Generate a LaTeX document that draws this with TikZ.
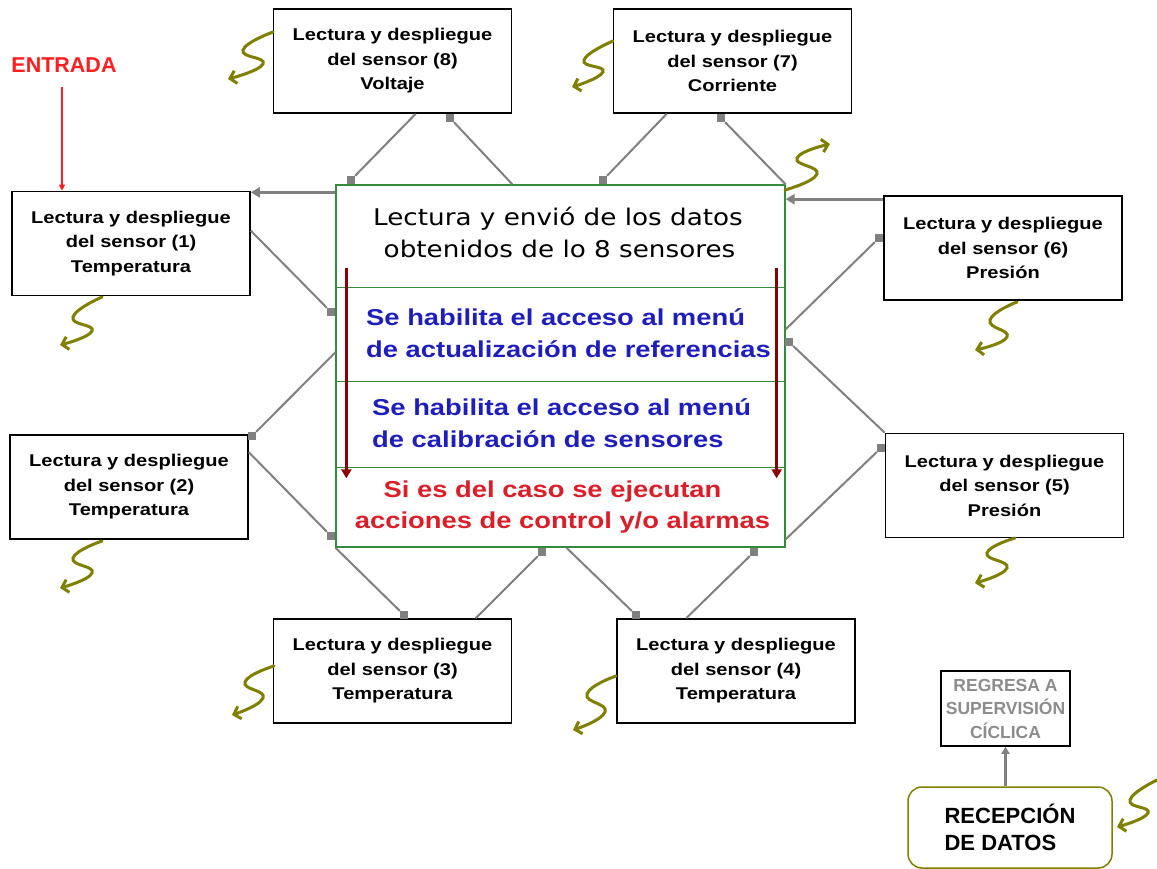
\documentclass[tikz,border=0pt]{standalone}
\usepackage{fontspec}
\setmainfont{Liberation Sans}
\newfontfamily\boxf[FakeStretch=1.18]{Liberation Sans}
\newfontfamily\cenf[FakeStretch=1.14]{DejaVu Sans}
\newfontfamily\bigf[FakeStretch=1.19]{Liberation Sans}
\usetikzlibrary{arrows.meta}
\definecolor{olv}{RGB}{128,128,0}
\definecolor{cgray}{RGB}{128,128,128}
\definecolor{grn}{RGB}{50,140,60}
\definecolor{dred}{RGB}{140,0,0}
\definecolor{cblue}{RGB}{30,30,190}
\definecolor{cred}{RGB}{220,30,40}
\definecolor{ered}{RGB}{255,30,30}
\definecolor{tgray}{RGB}{140,140,140}
\begin{document}
\begin{tikzpicture}[x=1pt,y=-1pt,
  sbox/.style={draw=black,line width=1.6pt,minimum width=238pt,minimum height=104pt,inner sep=0pt,align=center,font=\boxf\bfseries\fontsize{17}{24.5}\selectfont},
  sq/.style={fill=cgray,minimum size=8pt,inner sep=0pt},
  conn/.style={draw=cgray,line width=2pt},
  harrow/.style={draw=cgray,line width=3pt,-{Triangle[length=9pt,width=10pt]}},
  squig/.style={draw=olv,line width=3pt,line cap=round,-{Straight Barb[length=6pt,width=13pt]}},
  ctext/.style={inner sep=0pt,font=\cenf\fontsize{23}{32}\selectfont},
  btext/.style={inner sep=0pt,text=cblue,font=\bigf\bfseries\fontsize{23}{31}\selectfont},
  rtext/.style={inner sep=0pt,text=cred,font=\bigf\bfseries\fontsize{23}{31}\selectfont},
  grnline/.style={draw=grn,line width=1.3pt},
  dredarrow/.style={draw=dred,line width=3pt,-{Triangle[length=9pt,width=10pt]}}
]
\useasboundingbox[fill=white] (0,0) rectangle (1157,869);

% sensor boxes
\node[sbox] (b8) at (392.5,61) {Lectura y despliegue\\del sensor (8)\\Voltaje};
\node[sbox] (b7) at (732.5,61) {Lectura y despliegue\\del sensor (7)\\Corriente};
\node[sbox] (b1) at (131,243.5) {Lectura y despliegue\\del sensor (1)\\Temperatura};
\node[sbox] (b6) at (1003,248) {Lectura y despliegue\\del sensor (6)\\Presión};
\node[sbox] (b2) at (129,487) {Lectura y despliegue\\del sensor (2)\\Temperatura};
\node[sbox] (b5) at (1004.5,485.5) {Lectura y despliegue\\del sensor (5)\\Presión};
\node[sbox] (b3) at (392.5,671) {Lectura y despliegue\\del sensor (3)\\Temperatura};
\node[sbox] (b4) at (736,671) {Lectura y despliegue\\del sensor (4)\\Temperatura};

% central box
\node[draw=grn,line width=1.3pt,minimum width=449pt,minimum height=362pt,inner sep=0pt] (cb) at (560.5,366) {};
\draw[grnline] ([yshift=-103pt]cb.north west) -- ([yshift=-103pt]cb.north east);
\draw[grnline] ([yshift=-197pt]cb.north west) -- ([yshift=-197pt]cb.north east);
\draw[grnline] ([yshift=-283pt]cb.north west) -- ([yshift=-283pt]cb.north east);
\draw[dredarrow] ([xshift=11pt,yshift=-84pt]cb.north west) -- ([xshift=11pt,yshift=-294pt]cb.north west);
\draw[dredarrow] ([xshift=-9pt,yshift=-84pt]cb.north east) -- ([xshift=-9pt,yshift=-294pt]cb.north east);

\node[ctext,anchor=base] (t1) at (558,226) {Lectura y envió de los datos};
\node[ctext,anchor=base] (t2) at (559.5,258) {obtenidos de lo 8 sensores};
\node[btext,anchor=base west] (t3) at (366,325) {Se habilita el acceso al menú};
\node[btext,anchor=base west] (t4) at (366,357) {de actualización de referencias};
\node[btext,anchor=base west] (t5) at (372,415) {Se habilita el acceso al menú};
\node[btext,anchor=base west] (t6) at (372,447) {de calibración de sensores};
\node[rtext,anchor=base] (t7) at (552.5,497) {Si es del caso se ejecutan};
\node[rtext,anchor=base] (t8) at (562.5,528) {acciones de control y/o alarmas};

% squares
\node[sq] (s1) at (351,180) {};
\node[sq] (s2) at (450,118) {};
\node[sq] (s3) at (603,180) {};
\node[sq] (s4) at (721,118) {};
\node[sq] (s5) at (331,312) {};
\node[sq] (s6) at (252,436) {};
\node[sq] (s7) at (331,536) {};
\node[sq] (s8) at (404,615) {};
\node[sq] (s9) at (542,552) {};
\node[sq] (s10) at (636,615) {};
\node[sq] (s11) at (754,552) {};
\node[sq] (s12) at (879,238) {};
\node[sq] (s13) at (789,342) {};
\node[sq] (s14) at (881,448) {};

% connectors
\draw[conn] (s1) -- ([xshift=143pt]b8.south west);
\draw[conn] (s2) -- ([xshift=177pt]cb.north west);
\draw[conn] (s3) -- ([xshift=54pt]b7.south west);
\draw[conn] (s4) -- (cb.north east);
\draw[conn] ([yshift=-40pt]b1.north east) -- (s5);
\draw[conn] (s6) -- ([yshift=-168pt]cb.north west);
\draw[conn] ([yshift=-18pt]b2.north east) -- (s7);
\draw[conn] (cb.south west) -- (s8);
\draw[conn] ([xshift=203pt]b3.north west) -- (s9);
\draw[conn] ([xshift=231pt]cb.south west) -- (s10);
\draw[conn] ([xshift=70pt]b4.north west) -- (s11);
\draw[conn] (s12) -- ([yshift=-145pt]cb.north east);
\draw[conn] (s13) -- (b5.north west);
\draw[conn] (s14) -- ([yshift=-355pt]cb.north east);

\coordinate (a1s) at ([yshift=-8pt]cb.north west);
\draw[harrow] (a1s) -- (a1s -| b1.east);
\coordinate (a2s) at ([yshift=-4pt]b6.north west);
\draw[harrow] (a2s) -- (a2s -| cb.east);

% entrada
\node[text=ered,font=\bfseries\fontsize{21.5}{24}\selectfont,inner sep=0pt] (en) at (64,65) {ENTRADA};
\draw[draw=ered,line width=1.2pt,-{Triangle[length=6pt,width=6pt]}] ([xshift=-2pt,yshift=-14pt]en.south) -- ([xshift=-2pt]en.south |- b1.north);

% return boxes
\node[draw=black,line width=1.5pt,minimum width=129pt,minimum height=75pt,inner sep=0pt,align=center,text=tgray,font=\bfseries\fontsize{17.5}{23.5}\selectfont] (rg) at (1005.5,708.5) {REGRESA A\\SUPERVISIÓN\\CÍCLICA};
\node[draw=olv,line width=1.5pt,rounded corners=14pt,minimum width=204pt,minimum height=81pt,inner sep=0pt,align=left,font=\bfseries\fontsize{22}{27}\selectfont] (rc) at (1010,827.5) {RECEPCIÓN\\DE DATOS};
\draw[draw=cgray,line width=3pt,-{Triangle[length=7pt,width=8pt]}] (rc.north -| rg.south) -- (rg.south);

% squiggles
\draw[squig] plot[smooth,tension=0.9] coordinates {(273,32) (243,50) (263,64) (228,79)};
\draw[squig] plot[smooth,tension=0.9] coordinates {(613,41) (584,60) (603,72) (572,87)};
\draw[squig] plot[smooth,tension=0.9] coordinates {(785,190) (817,174) (797,158) (830,144)};
\draw[squig] plot[smooth,tension=0.9] coordinates {(102,297) (73,317) (92,331) (60,345)};
\draw[squig] plot[smooth,tension=0.9] coordinates {(1017,302) (990,320) (1007,337) (975,350)};
\draw[squig] plot[smooth,tension=0.9] coordinates {(102,541) (73,558) (92,573) (60,588)};
\draw[squig] plot[smooth,tension=0.9] coordinates {(1015,538) (987,553) (1007,568) (975,583)};
\draw[squig] plot[smooth,tension=0.9] coordinates {(274,666) (245,682) (263,698) (232,715)};
\draw[squig] plot[smooth,tension=0.9] coordinates {(616,676) (587,694) (605,712) (573,730)};
\draw[squig] plot[smooth,tension=0.9] coordinates {(1157,780) (1130,800) (1148,813) (1117,827)};
\end{tikzpicture}
\end{document}
